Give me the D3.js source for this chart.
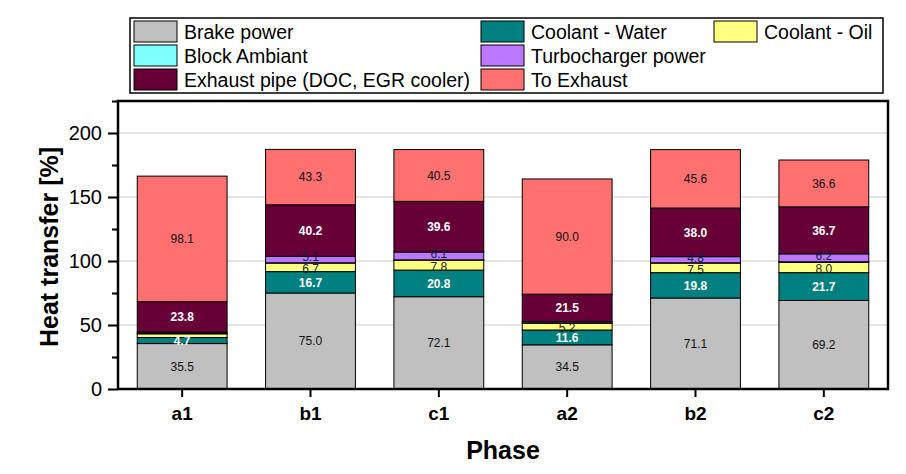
<!DOCTYPE html>
<html><head><meta charset="utf-8">
<script src="https://cdn.jsdelivr.net/npm/d3@7/dist/d3.min.js"></script>
<style>
body{margin:0;background:#fff;}
svg{display:block;font-family:Arial,"Liberation Sans",sans-serif;}
</style></head>
<body><svg id="chart" width="906" height="474"></svg>
<script>
const phases = ["a1","b1","c1","a2","b2","c2"];
const seriesNames = ["Brake power","Coolant - Water","Coolant - Oil","Block Ambiant","Turbocharger power","Exhaust pipe (DOC, EGR cooler)","To Exhaust"];
const brakePower   = [35.5, 75.0, 72.1, 34.5, 71.1, 69.2];
const coolantWater = [4.7, 16.7, 20.8, 11.6, 19.8, 21.7];
const coolantOil   = [2.9, 6.7, 7.8, 5.2, 7.5, 8.0];
const blockAmbiant = [0.3, 0.2, 0.2, 0.3, 0.2, 0.5];
const turboPower   = [1.0, 5.1, 6.1, 1.0, 4.8, 6.2];
const exhaustPipe  = [23.8, 40.2, 39.6, 21.5, 38.0, 36.7];
const toExhaust    = [98.1, 43.3, 40.5, 90.0, 45.6, 36.6];
const yTicks = [0, 50, 100, 150, 200];
const yMinorTicks = [25, 75, 125, 175, 225];

const seriesValues = [brakePower, coolantWater, coolantOil, blockAmbiant, turboPower, exhaustPipe, toExhaust];
const colors = ["#c0c0c0","#008080","#ffff80","#80ffff","#bb77ff","#680038","#ff7070"];
const labelColors = ["#111","#fff","#222","#222","#1a1a4a","#fff","#111"];
const labelShift = [0, 0, 1.5, 0, -2.5, 0, 0];

const svg = d3.select("#chart");
const L = 118, R = 888, T = 101, B = 389;

const x = d3.scaleBand().domain(phases).range([L, R]).paddingInner(0.3).paddingOuter(0.15);
const y = d3.scaleLinear().domain([0, 225]).range([B, T]);

// gridlines
svg.append("g").selectAll("line").data(yTicks.filter(d => d > 0)).join("line")
  .attr("x1", L).attr("x2", R).attr("y1", d => y(d)).attr("y2", d => y(d))
  .attr("stroke", "#c8c8c8").attr("stroke-width", 1);

// stack
const rows = phases.map((p, i) => {
  const o = {phase: p};
  seriesNames.forEach((s, k) => o[s] = seriesValues[k][i]);
  return o;
});
const stacked = d3.stack().keys(seriesNames)(rows);

const gBars = svg.append("g");
stacked.forEach((layer, k) => {
  gBars.append("g").selectAll("rect").data(layer).join("rect")
    .attr("x", d => x(d.data.phase))
    .attr("width", x.bandwidth())
    .attr("y", d => y(d[1]))
    .attr("height", d => y(d[0]) - y(d[1]))
    .attr("fill", colors[k])
    .attr("stroke", "#000").attr("stroke-width", 1);
});
// labels
stacked.forEach((layer, k) => {
  gBars.append("g").selectAll("text").data(layer.filter(d => (d[1]-d[0]) > 3.5)).join("text")
    .attr("x", d => x(d.data.phase) + x.bandwidth()/2)
    .attr("y", d => y((d[0]+d[1])/2) + labelShift[k])
    .attr("dy", "0.36em")
    .attr("text-anchor", "middle")
    .attr("font-size", 12)
    .attr("font-weight", (k===1||k===5) ? "bold" : "normal")
    .attr("fill", labelColors[k])
    .text(d => (d[1]-d[0]).toFixed(1));
});

// axes
const yAxis = d3.axisLeft(y).tickValues(yTicks).tickSize(10).tickPadding(6);
const gy = svg.append("g").attr("transform", `translate(${L},0)`).call(yAxis);
gy.select(".domain").remove();
gy.selectAll(".tick line").attr("stroke", "#000").attr("stroke-width", 2);
gy.selectAll(".tick text").attr("font-size", 20).attr("fill", "#000").attr("font-family", "Arial, 'Liberation Sans', sans-serif");
const gyMinor = svg.append("g").attr("transform", `translate(${L},0)`)
  .call(d3.axisLeft(y).tickValues(yMinorTicks).tickSize(6).tickFormat(""));
gyMinor.select(".domain").remove();
gyMinor.selectAll(".tick line").attr("stroke", "#000").attr("stroke-width", 2);

const xAxis = d3.axisBottom(x).tickSize(8).tickPadding(10);
const gx = svg.append("g").attr("transform", `translate(0,${B})`).call(xAxis);
gx.select(".domain").remove();
gx.selectAll(".tick line").attr("stroke", "#000").attr("stroke-width", 2);
gx.selectAll(".tick text").attr("font-size", 19).attr("font-weight", "bold").attr("fill", "#000").attr("font-family", "Arial, 'Liberation Sans', sans-serif");

// frame
svg.append("rect").attr("x", L).attr("y", T).attr("width", R - L).attr("height", B - T)
  .attr("fill", "none").attr("stroke", "#000").attr("stroke-width", 2.5);

// axis titles
svg.append("text").attr("transform", `translate(58,${(T+B)/2 + 2}) rotate(-90)`)
  .attr("text-anchor", "middle").attr("font-size", 25).attr("font-weight", "bold").text("Heat transfer [%]");
svg.append("text").attr("x", (L+R)/2).attr("y", 459)
  .attr("text-anchor", "middle").attr("font-size", 25).attr("font-weight", "bold").text("Phase");

// legend
const legendBox = {x: 130, y: 18, w: 753, h: 75};
const lg = svg.append("g");
lg.append("rect").attr("x", legendBox.x).attr("y", legendBox.y).attr("width", legendBox.w).attr("height", legendBox.h)
  .attr("fill", "#fff").attr("stroke", "#000").attr("stroke-width", 1.5);
const legendOrder = [
  {k:0, col:0, row:0},{k:1, col:1, row:0},{k:2, col:2, row:0},
  {k:3, col:0, row:1},{k:4, col:1, row:1},
  {k:5, col:0, row:2},{k:6, col:1, row:2}
];
const colX = [134, 481, 714];
legendOrder.forEach(e => {
  const gx0 = colX[e.col], gy0 = 21 + e.row * 24;
  lg.append("rect").attr("x", gx0).attr("y", gy0).attr("width", 43).attr("height", 21)
    .attr("fill", colors[e.k]).attr("stroke", "#000").attr("stroke-width", 1);
  lg.append("text").attr("x", gx0 + 50).attr("y", gy0 + 11).attr("dy", "0.35em")
    .attr("font-size", 19.5).attr("fill", "#000").text(seriesNames[e.k]);
});
</script></body></html>
